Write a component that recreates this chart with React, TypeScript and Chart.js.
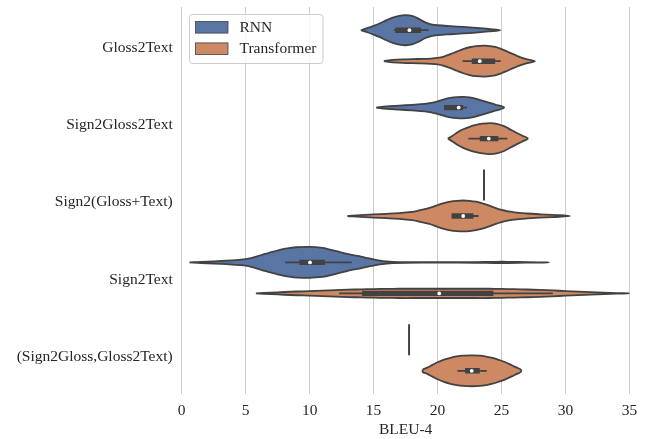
import React, { useEffect, useRef } from "react";
import { Chart, registerables } from "chart.js";

Chart.register(...registerables);

const CATEGORIES = [
  "Gloss2Text",
  "Sign2Gloss2Text",
  "Sign2(Gloss+Text)",
  "Sign2Text",
  "(Sign2Gloss,Gloss2Text)",
];
const SERIES = ["RNN", "Transformer"];
const SERIES_COLORS = ["#5875a4", "#cc8964"];
const X_TICK_STEP = 5;

// Density profiles (BLEU value, relative half-width 0..1)
const G2T_RNN_X = [14.0, 14.5, 15.0, 15.5, 16.0, 16.5, 17.0, 17.5, 18.0, 18.5, 19.0, 19.5, 20.0, 21.0, 22.0, 23.0, 24.0, 24.9];
const G2T_RNN_W = [0, 0.13, 0.28, 0.45, 0.65, 0.82, 0.93, 0.97, 0.92, 0.75, 0.52, 0.38, 0.32, 0.26, 0.21, 0.15, 0.08, 0];

const G2T_TRF_X = [15.8, 16.5, 17.5, 18.5, 19.5, 20.0, 20.5, 21.0, 21.5, 22.0, 22.5, 23.0, 23.7, 24.5, 25.0, 25.5, 26.0, 26.5, 27.0, 27.6];
const G2T_TRF_W = [0, 0.08, 0.12, 0.14, 0.17, 0.21, 0.3, 0.45, 0.62, 0.78, 0.9, 0.97, 1.0, 0.92, 0.78, 0.6, 0.42, 0.25, 0.12, 0];

const S2G2T_RNN_X = [15.2, 16.0, 17.0, 18.0, 19.0, 19.5, 20.0, 20.5, 21.0, 21.5, 22.0, 22.5, 23.0, 23.5, 24.0, 24.5, 25.2];
const S2G2T_RNN_W = [0, 0.08, 0.13, 0.18, 0.24, 0.3, 0.4, 0.53, 0.63, 0.68, 0.69, 0.66, 0.57, 0.45, 0.32, 0.2, 0];

const S2G2T_TRF_X = [20.8, 21.2, 21.6, 22.0, 22.5, 23.0, 23.5, 24.1, 24.7, 25.2, 25.7, 26.2, 26.6, 27.05];
const S2G2T_TRF_W = [0, 0.2, 0.43, 0.6, 0.76, 0.88, 0.96, 1.0, 0.94, 0.8, 0.58, 0.36, 0.2, 0];

const S2GT_TRF_X = [12.95, 14.0, 15.0, 16.0, 17.0, 18.0, 18.5, 19.0, 19.5, 20.0, 20.5, 21.0, 21.5, 22.0, 22.5, 23.0, 23.5, 24.0, 24.5, 25.0, 25.5, 26.0, 27.0, 28.0, 29.0, 30.35];
const S2GT_TRF_W = [0, 0.06, 0.1, 0.14, 0.19, 0.27, 0.35, 0.45, 0.55, 0.7, 0.83, 0.93, 0.98, 1.0, 0.98, 0.92, 0.82, 0.68, 0.52, 0.39, 0.3, 0.23, 0.16, 0.11, 0.07, 0];

const S2T_RNN_X = [0.6, 1.5, 2.5, 3.5, 4.5, 5.0, 5.5, 6.0, 6.5, 7.0, 7.5, 8.0, 8.5, 9.0, 10.0, 11.0, 11.5, 12.0, 12.5, 13.0, 13.5, 14.0, 14.5, 15.0, 15.5, 16.0, 16.5, 17.5, 20.0, 23.0, 24.5, 25.5, 27.0, 28.7];
const S2T_RNN_W = [0, 0.04, 0.07, 0.11, 0.17, 0.21, 0.3, 0.42, 0.55, 0.66, 0.77, 0.87, 0.94, 0.98, 1.0, 0.94, 0.85, 0.75, 0.64, 0.54, 0.45, 0.38, 0.28, 0.2, 0.12, 0.07, 0.04, 0.02, 0.01, 0.02, 0.04, 0.04, 0.015, 0];

const S2T_TRF_X = [5.8, 7.0, 8.0, 9.0, 10.0, 11.0, 12.0, 13.0, 14.0, 15.0, 16.0, 17.0, 18.0, 19.0, 20.0, 21.0, 22.0, 23.0, 24.0, 25.0, 26.0, 27.0, 28.0, 29.0, 30.0, 31.0, 32.0, 33.0, 34.0, 35.0];
const S2T_TRF_W = [0, 0.05, 0.09, 0.12, 0.15, 0.18, 0.21, 0.24, 0.26, 0.28, 0.29, 0.3, 0.3, 0.3, 0.3, 0.3, 0.3, 0.3, 0.3, 0.29, 0.27, 0.25, 0.22, 0.19, 0.15, 0.11, 0.08, 0.05, 0.02, 0];

const S2G_G2T_TRF_X = [18.84, 19.2, 19.6, 20.0, 20.5, 21.0, 21.5, 22.0, 22.67, 23.3, 23.8, 24.3, 24.8, 25.3, 25.8, 26.2, 26.5];
const S2G_G2T_TRF_W = [0.08, 0.2, 0.38, 0.55, 0.72, 0.84, 0.93, 0.98, 1.0, 0.98, 0.92, 0.83, 0.7, 0.55, 0.36, 0.2, 0.08];

// Single-observation groups (drawn as a stick)
const RNN_SINGLE = [null, null, 23.63, null, 17.77];
const TRF_SINGLE = [null, null, null, null, null];

// Inner box statistics
const RNN_WHISKER_LO = [16.6, 20.5, null, 8.08, null];
const RNN_WHISKER_HI = [19.3, 22.3, null, 13.29, null];
const RNN_Q1 = [16.7, 20.5, null, 9.2, null];
const RNN_Q3 = [18.7, 22.0, null, 11.2, null];
const RNN_MEDIAN = [17.8, 21.65, null, 10.03, null];

const TRF_WHISKER_LO = [21.96, 22.4, 21.1, 12.3, 21.55];
const TRF_WHISKER_HI = [24.93, 25.45, 23.2, 29.0, 23.84];
const TRF_Q1 = [22.67, 23.3, 21.1, 14.1, 22.15];
const TRF_Q3 = [24.5, 24.75, 22.8, 24.36, 23.3];
const TRF_MEDIAN = [23.3, 24.0, 22.0, 20.13, 22.67];

const RNN_PROFILES: ([number[], number[]] | null)[] = [
  [G2T_RNN_X, G2T_RNN_W],
  [S2G2T_RNN_X, S2G2T_RNN_W],
  null,
  [S2T_RNN_X, S2T_RNN_W],
  null,
];
const TRF_PROFILES: ([number[], number[]] | null)[] = [
  [G2T_TRF_X, G2T_TRF_W],
  [S2G2T_TRF_X, S2G2T_TRF_W],
  [S2GT_TRF_X, S2GT_TRF_W],
  [S2T_TRF_X, S2T_TRF_W],
  [S2G_G2T_TRF_X, S2G_G2T_TRF_W],
];

const GROUPS = [
  { profiles: RNN_PROFILES, single: RNN_SINGLE, lo: RNN_WHISKER_LO, hi: RNN_WHISKER_HI, q1: RNN_Q1, q3: RNN_Q3, med: RNN_MEDIAN },
  { profiles: TRF_PROFILES, single: TRF_SINGLE, lo: TRF_WHISKER_LO, hi: TRF_WHISKER_HI, q1: TRF_Q1, q3: TRF_Q3, med: TRF_MEDIAN },
];

const DODGE = 0.2;
const HALF = 0.2;
const LINE = "#424242";
const TEXT = "#262626";
const FONT_FAMILY = "'Liberation Serif', 'Times New Roman', serif";
const FONT_SIZE = 15.5;

function violinPoints(xs: number[], ws: number[], yc: number) {
  const top = xs.map((x, i) => ({ x, y: yc - ws[i] * HALF }));
  const bot = xs.map((x, i) => ({ x, y: yc + ws[i] * HALF })).reverse();
  const pts = [...top];
  bot.forEach((p, i) => {
    if (i === 0 && ws[ws.length - 1] === 0) return;
    pts.push(p);
  });
  if (ws[0] !== 0) pts.push(top[0]);
  return pts;
}

function buildDatasets() {
  const ds: any[] = [];
  GROUPS.forEach((g, s) => {
    const off = s === 0 ? -DODGE : DODGE;
    CATEGORIES.forEach((_, c) => {
      const yc = c + off;
      const prof = g.profiles[c];
      if (prof) {
        ds.push({
          data: violinPoints(prof[0], prof[1], yc),
          showLine: true,
          fill: "shape",
          backgroundColor: SERIES_COLORS[s],
          borderColor: LINE,
          borderWidth: 1.8,
          borderJoinStyle: "round",
          tension: 0.35,
          pointRadius: 0,
          order: 3,
        });
      }
      const single = g.single[c];
      if (single !== null) {
        ds.push({
          data: [
            { x: single, y: yc - HALF },
            { x: single, y: yc + HALF },
          ],
          showLine: true,
          borderColor: LINE,
          borderWidth: 2,
          pointRadius: 0,
          order: 3,
        });
      }
      if (g.med[c] !== null) {
        ds.push({
          data: [
            { x: g.lo[c], y: yc },
            { x: g.hi[c], y: yc },
          ],
          showLine: true,
          borderColor: LINE,
          borderWidth: 1.8,
          pointRadius: 0,
          order: 2,
        });
        ds.push({
          data: [
            { x: g.q1[c], y: yc },
            { x: g.q3[c], y: yc },
          ],
          showLine: true,
          borderColor: LINE,
          borderWidth: 5.4,
          borderCapStyle: "butt",
          pointRadius: 0,
          order: 1,
        });
        ds.push({
          data: [{ x: g.med[c], y: yc }],
          showLine: false,
          pointRadius: 1.9,
          pointBackgroundColor: "#ffffff",
          pointBorderWidth: 0,
          order: 0,
        });
      }
    });
  });
  return ds;
}

const legendPlugin = {
  id: "boxLegend",
  afterDraw(chart: any) {
    const { ctx, chartArea } = chart;
    const x0 = chartArea.left + 7.8;
    const y0 = chartArea.top + 7.5;
    const w = 133.5;
    const h = 49;
    ctx.save();
    ctx.beginPath();
    ctx.roundRect(x0, y0, w, h, 3);
    ctx.fillStyle = "rgba(255,255,255,0.8)";
    ctx.fill();
    ctx.strokeStyle = "#cccccc";
    ctx.lineWidth = 1;
    ctx.stroke();
    ctx.font = `${FONT_SIZE}px ${FONT_FAMILY}`;
    ctx.textBaseline = "middle";
    ctx.textAlign = "left";
    SERIES.forEach((name, i) => {
      const py = y0 + 7 + i * 21.4;
      ctx.fillStyle = SERIES_COLORS[i];
      ctx.fillRect(x0 + 6, py, 32.5, 11.6);
      ctx.strokeStyle = LINE;
      ctx.lineWidth = 0.8;
      ctx.strokeRect(x0 + 6, py, 32.5, 11.6);
      ctx.fillStyle = TEXT;
      ctx.fillText(name, x0 + 50, py + 6.3);
    });
    ctx.restore();
  },
};

export default function App() {
  const ref = useRef<HTMLCanvasElement | null>(null);
  useEffect(() => {
    document.body.style.margin = "0";
    const canvas = ref.current;
    if (!canvas) return;
    const font = { family: FONT_FAMILY, size: FONT_SIZE };
    const chart = new Chart(canvas, {
      type: "scatter",
      data: { datasets: buildDatasets() },
      options: {
        responsive: false,
        animation: false,
        events: [],
        layout: { padding: { left: 0, right: 18.5, top: 7, bottom: 0 } },
        plugins: {
          legend: { display: false },
          tooltip: { enabled: false },
        },
        scales: {
          x: {
            type: "linear",
            min: 0,
            max: 35,
            position: "bottom",
            ticks: { stepSize: X_TICK_STEP, font, color: TEXT, padding: 8, maxRotation: 0 },
            grid: { color: "#cccccc", lineWidth: 1, drawTicks: false },
            border: { display: false },
            title: { display: true, text: "BLEU-4", font, color: TEXT, padding: { top: 0, bottom: 0 } },
            afterFit: (s: any) => {
              s.height = 45;
              s.paddingLeft = 0;
              s.paddingRight = 0;
            },
          },
          y: {
            type: "linear",
            min: -0.5,
            max: 4.5,
            reverse: true,
            afterBuildTicks: (a: any) => {
              a.ticks = CATEGORIES.map((_, i) => ({ value: i }));
            },
            ticks: {
              font,
              color: TEXT,
              padding: 9,
              labelOffset: 1.8,
              callback: (v: any) => CATEGORIES[Math.round(Number(v))] ?? "",
            },
            grid: { display: false, drawTicks: false },
            border: { display: false },
            afterFit: (s: any) => {
              s.width = 181.7;
              s.paddingTop = 0;
              s.paddingBottom = 0;
            },
          },
        },
      } as any,
      plugins: [legendPlugin],
    });
    return () => chart.destroy();
  }, []);
  return (
    <div style={{ width: 648, height: 439 }}>
      <canvas ref={ref} width={648} height={439} style={{ width: 648, height: 439, display: "block" }} />
    </div>
  );
}
